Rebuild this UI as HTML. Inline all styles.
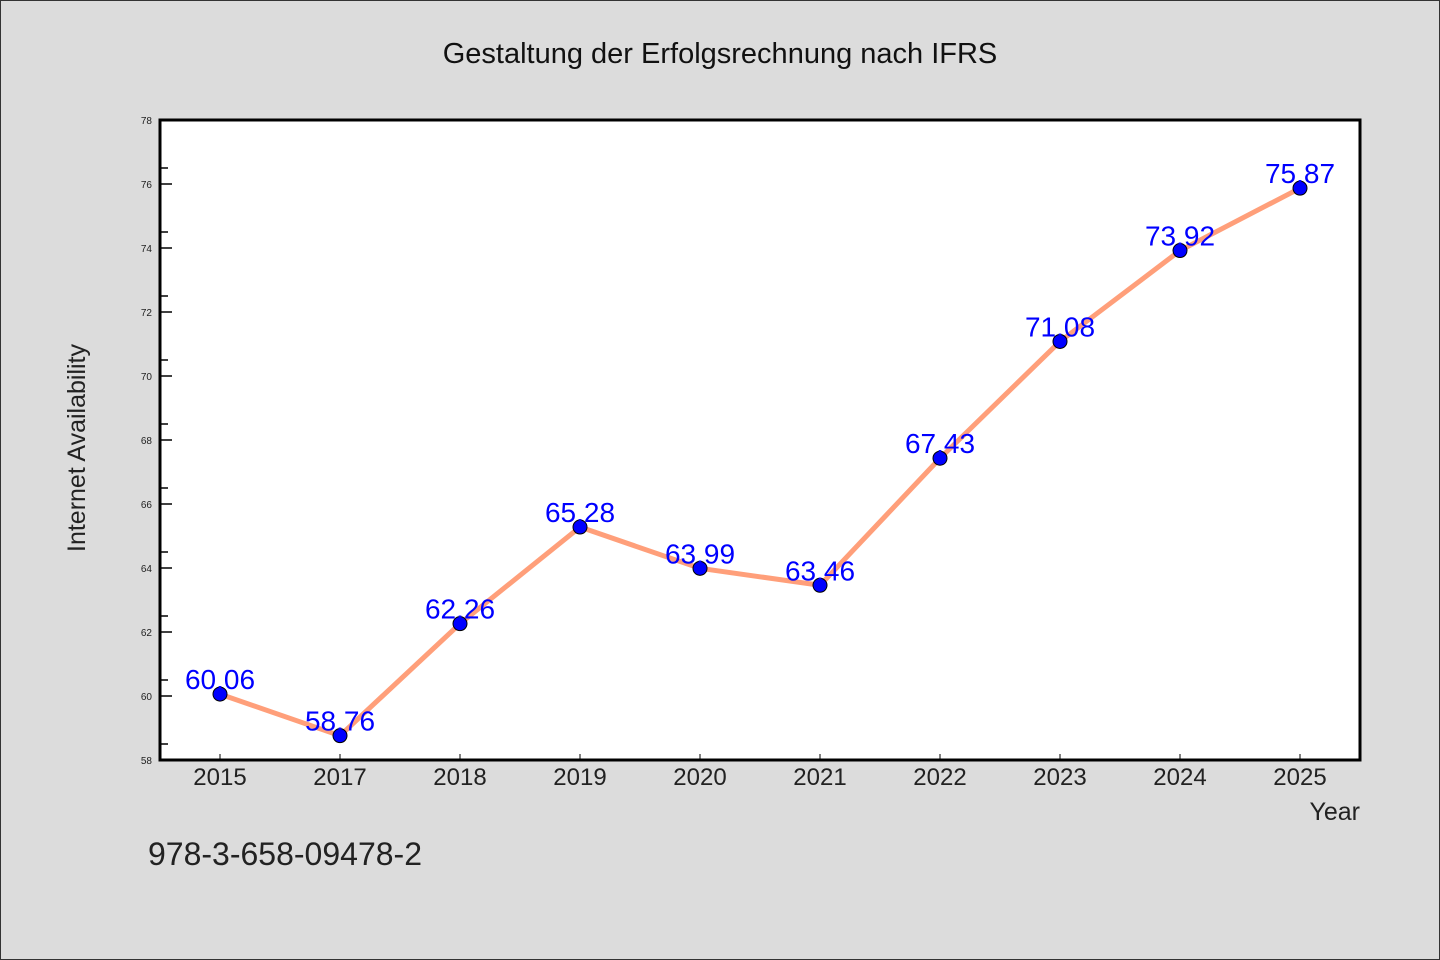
<!DOCTYPE html>
<html><head><meta charset="utf-8"><style>
html,body{margin:0;padding:0;background:#dcdcdc}
svg{display:block}
text{font-family:"WenQuanYi Zen Hei","Liberation Sans",sans-serif}
</style></head><body>
<svg width="1440" height="960" xmlns="http://www.w3.org/2000/svg">
<rect x="0.5" y="0.5" width="1439" height="959" fill="#dcdcdc" stroke="#333"/>
<text x="720" y="63" font-size="29" text-anchor="middle" fill="#111">Gestaltung der Erfolgsrechnung nach IFRS</text>
<rect x="160" y="120" width="1200" height="640" fill="#fff"/>
<g id="yticks"></g>
<g id="xticks"></g>
<polyline id="line" fill="none" stroke="#ff9f7a" stroke-width="5" stroke-linejoin="round"/>
<g id="pts"></g>
<rect x="160" y="120" width="1200" height="640" fill="none" stroke="#000" stroke-width="3"/>
<text x="0" y="0" transform="translate(85,448) rotate(-90)" font-size="25" text-anchor="middle" fill="#222">Internet Availability</text>
<text x="1360" y="820" font-size="25" text-anchor="end" fill="#222">Year</text>
<text x="148" y="865" font-size="32" fill="#222">978-3-658-09478-2</text>
</svg>
<script>
const categories=["2015","2017","2018","2019","2020","2021","2022","2023","2024","2025"];
const values=[60.06,58.76,62.26,65.28,63.99,63.46,67.43,71.08,73.92,75.87];
const labels=["60.06","58.76","62.26","65.28","63.99","63.46","67.43","71.08","73.92","75.87"];
const yTicks=[58,60,62,64,66,68,70,72,74,76,78];
const NS="http://www.w3.org/2000/svg";
function xs(i){return 160+1200/categories.length*(i+0.5);}
function ys(v){return 760-(v-58)/20*640;}
function mk(t,a,p){const e=document.createElementNS(NS,t);for(const k in a)e.setAttribute(k,a[k]);p.appendChild(e);return e;}
const yg=document.getElementById('yticks');
yTicks.forEach((v,i)=>{
 const y=ys(v);
 const t=mk('line',{x1:160,x2:172,y1:y,y2:y,stroke:'#000','stroke-width':1.5},yg);
 
 
 if(i<yTicks.length-1){const m=mk('line',{x1:160,x2:168,y1:y-16,y2:y-16,stroke:'#000','stroke-width':1.5},yg);
 
 }
 const l=mk('text',{x:152,y:y+4,'font-size':10,'text-anchor':'end',fill:'#222'},yg);
 l.textContent=v;
 
 
});
const xg=document.getElementById('xticks');
categories.forEach((c,i)=>{
 const x=xs(i);
 const t=mk('line',{x1:x,x2:x,y1:760,y2:754,stroke:'#000','stroke-width':1},xg);
 
 
 const l=mk('text',{x:x,y:785,'font-size':24,'text-anchor':'middle',fill:'#222'},xg);
 l.textContent=c;
 
 
});
document.getElementById('line').setAttribute('points',values.map((v,i)=>xs(i)+','+ys(v)).join(' '));
const pg=document.getElementById('pts');
values.forEach((v,i)=>{
 const c=mk('circle',{cx:xs(i),cy:ys(v),r:7,fill:'#0000ff',stroke:'#000','stroke-width':1},pg);
 
 
 const l=mk('text',{x:xs(i),y:ys(v)-5,'font-size':28,'text-anchor':'middle',fill:'#0000ff'},pg);
 l.textContent=labels[i];
 
 
});
</script>
</body></html>
